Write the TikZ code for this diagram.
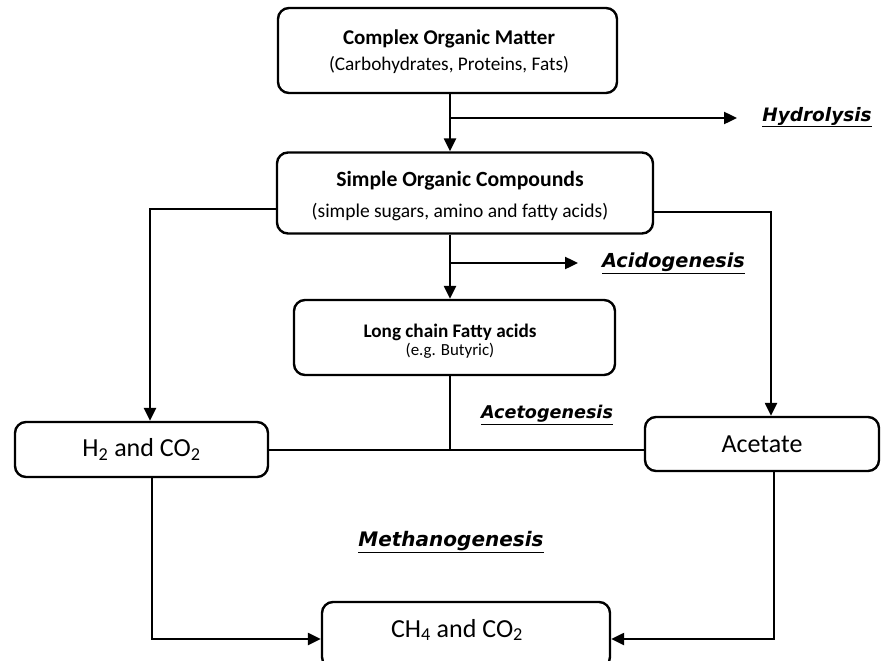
\documentclass[tikz,border=0pt]{standalone}
\usepackage{fontspec}
\setmainfont{Carlito}
\newfontfamily\labfont{DejaVu Sans}
\usetikzlibrary{arrows.meta,calc}
\begin{document}
\begin{tikzpicture}[x=1pt,y=-1pt,
  box/.style={draw, line width=2.4pt, rounded corners=11pt, align=center, inner sep=0pt},
  txt/.style={align=center, inner sep=0pt},
  conn/.style={line width=2.4pt},
  arr/.style={conn, -{Triangle[length=13pt,width=12pt]}},
  lab/.style={font=\labfont\bfseries\itshape\fontsize{#1}{22}\selectfont, inner sep=0pt},
  bigtxt/.style={font=\fontsize{26}{30}\selectfont}]
\useasboundingbox (0,0) rectangle (886,661);

% boxes
\node[box, minimum width=339pt, minimum height=85pt] (b1) at (447.5,50.5) {};
\node[txt, font=\fontsize{19.3}{26}\selectfont] (b1t) at (449,52)
  {{\fontsize{21}{26}\selectfont\bfseries Complex Organic Matter}\\(Carbohydrates, Proteins, Fats)};
\node[box, minimum width=376pt, minimum height=81pt] (b2) at (465,193) {};
\node[txt, font=\fontsize{19.5}{31}\selectfont] (b2t) at (460,196)
  {{\fontsize{21.7}{31}\selectfont\bfseries Simple Organic Compounds}\\(simple sugars, amino and fatty acids)};
\node[box, minimum width=321pt, minimum height=75pt] (b3) at (454.5,337.5) {};
\node[txt, font=\fontsize{16.9}{18.5}\selectfont] (b3t) at (450,341)
  {{\fontsize{19.2}{18.5}\selectfont\bfseries Long chain Fatty acids}\\(e.g. Butyric)};
\node[box, minimum width=253pt, minimum height=55pt, bigtxt] (h2) at (141.5,449.5)
  {H\textsubscript{2} and CO\textsubscript{2}};
\node[box, minimum width=234pt, minimum height=54pt, bigtxt] (ac) at (762,444)
  {Acetate};
\node[box, minimum width=288pt, minimum height=66pt] (ch) at (466,635) {};
\node[txt, bigtxt] (cht) at (457,630) {CH\textsubscript{4} and CO\textsubscript{2}};

% labels
\node[lab=18.5] (hyd) at (817,117) {\underline{Hydrolysis}};
\node[lab=19.3] (acid) at (673.5,263) {\underline{Acidogenesis}};
\node[lab=17.6] (aceto) at (547,415) {\underline{Acetogenesis}};
\node[lab=20] (meth) at (451,542) {\underline{Methanogenesis}};

% helper coordinates
\coordinate (hs) at (450,118);
\coordinate (ht) at (737,118);
\coordinate (as) at (450,263);
\coordinate (at) at (578,263);
\coordinate (j) at (450,450);

% connectors
\draw[arr] (450,0 |- b1.south) -- (450,0 |- b2.north);
\draw[arr] (hs) -- (ht);
\draw[arr] ($(b2.west)+(0,16)$) -- (150,209) -- (150,0 |- h2.north);
\draw[arr] ($(b2.east)+(0,19)$) -- (771,212) -- (771,0 |- ac.north);
\draw[arr] (450,0 |- b2.south) -- (450,0 |- b3.north);
\draw[arr] (as) -- (at);
\draw[conn] (450,0 |- b3.south) -- (j);
\draw[conn] (h2.east |- j) -- (ac.west |- j);
\draw[arr] (152,0 |- h2.south) -- (152,639) -- (ch.west |- 0,639);
\draw[arr] (774,0 |- ac.south) -- (774,639) -- (ch.east |- 0,639);
\end{tikzpicture}
\end{document}
